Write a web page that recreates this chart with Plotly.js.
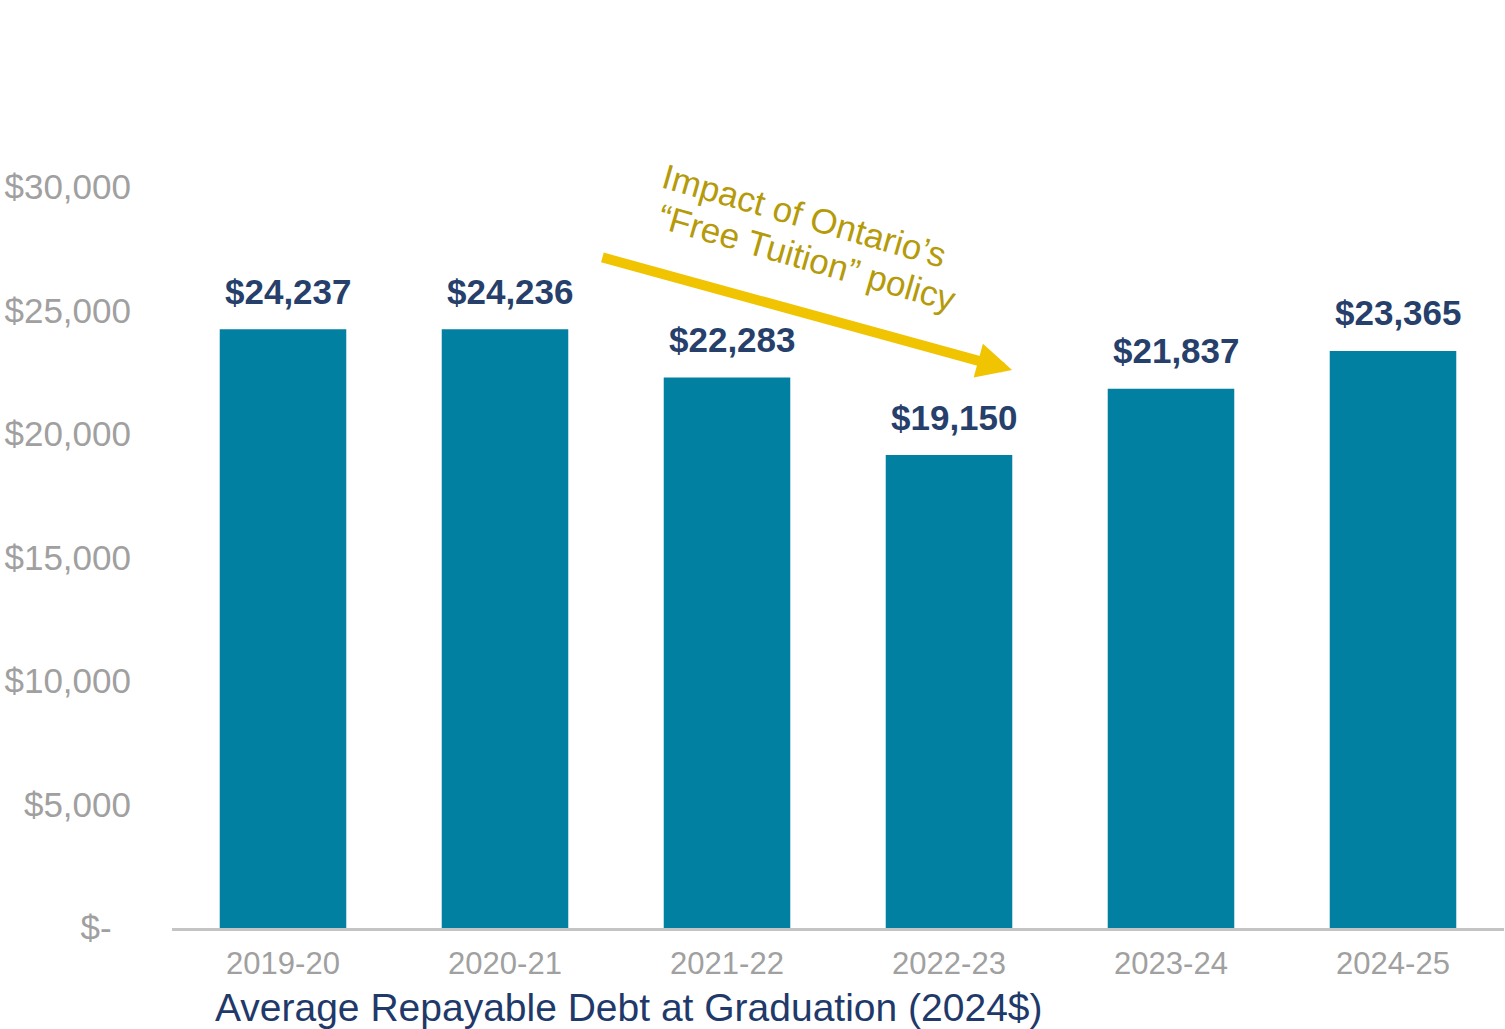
<!DOCTYPE html>
<html>
<head>
<meta charset="utf-8">
<script src="https://cdn.plot.ly/plotly-3.0.1.min.js"></script>
<style>html,body{margin:0;padding:0;background:#fff;}#chart{width:1505px;height:1029px;}</style>
</head>
<body>
<div id="chart"></div>
<script>
const categories = ["2019-20", "2020-21", "2021-22", "2022-23", "2023-24", "2024-25"];
const debtValues = [24237, 24236, 22283, 19150, 21837, 23365];
const valueLabels = ["$24,237", "$24,236", "$22,283", "$19,150", "$21,837", "$23,365"];
const yTickVals = [0, 5000, 10000, 15000, 20000, 25000, 30000];
const yTickText = ["$-\u00a0\u00a0", "$5,000", "$10,000", "$15,000", "$20,000", "$25,000", "$30,000"];
const axisTitle = "Average Repayable Debt at Graduation (2024$)";
const noteLines = ["Impact of Ontario\u2019s", "\u201cFree Tuition\u201d policy"];

const FONT = "'Liberation Sans', Arial, sans-serif";

const trace = {
  type: "bar",
  x: categories,
  y: debtValues,
  marker: {color: "#0180a2"},
  hoverinfo: "none"
};

const labelAnns = categories.map((c, i) => ({
  x: c, y: debtValues[i], xref: "x", yref: "y",
  text: valueLabels[i], showarrow: false,
  xanchor: "center", yanchor: "middle", yshift: 38, xshift: 5,
  font: {family: FONT, size: 35, color: "#263f6b", weight: 700}
}));

const annotations = labelAnns.concat([
  {
    x: 3.284, y: 22591, ax: 1.432, ay: 27166,
    xref: "x", yref: "y", axref: "x", ayref: "y",
    text: "", showarrow: true, arrowhead: 2, arrowsize: 0.7, arrowwidth: 10,
    arrowcolor: "#f0c400"
  },
  {
    x: 2.351, y: 28866, xref: "x", yref: "y", text: noteLines[0], showarrow: false,
    textangle: 16, xanchor: "center", yanchor: "middle",
    font: {family: FONT, size: 35, color: "#b59a0a"}
  },
  {
    x: 2.360, y: 27126, xref: "x", yref: "y", text: noteLines[1], showarrow: false,
    textangle: 16, xanchor: "center", yanchor: "middle",
    font: {family: FONT, size: 35, color: "#b59a0a"}
  },
  {
    x: 0.0308, y: -0.076, xref: "paper", yref: "paper", text: axisTitle, showarrow: false,
    xanchor: "left", yanchor: "top",
    font: {family: FONT, size: 39, color: "#1f3a6a"}
  }
]);

const layout = {
  width: 1505, height: 1029,
  margin: {l: 172, r: 1, t: 187, b: 101, pad: 0},
  paper_bgcolor: "#ffffff", plot_bgcolor: "#ffffff",
  showlegend: false,
  bargap: 0.43,
  xaxis: {
    type: "category",
    range: [-0.5, 5.5],
    showline: true, linecolor: "#c4c4c4", linewidth: 3,
    showgrid: false, zeroline: false,
    ticks: "outside", ticklen: 6, tickcolor: "rgba(0,0,0,0)",
    tickfont: {family: FONT, size: 31, color: "#a0a0a0"}
  },
  yaxis: {
    range: [0, 30000],
    tickvals: yTickVals, ticktext: yTickText,
    showline: false, showgrid: false, zeroline: false,
    ticks: "outside", ticklen: 33, tickcolor: "rgba(0,0,0,0)",
    tickfont: {family: FONT, size: 35, color: "#a0a0a0"}
  },
  annotations: annotations
};

Plotly.newPlot("chart", [trace], layout, {displayModeBar: false, staticPlot: true});
</script>
</body>
</html>
